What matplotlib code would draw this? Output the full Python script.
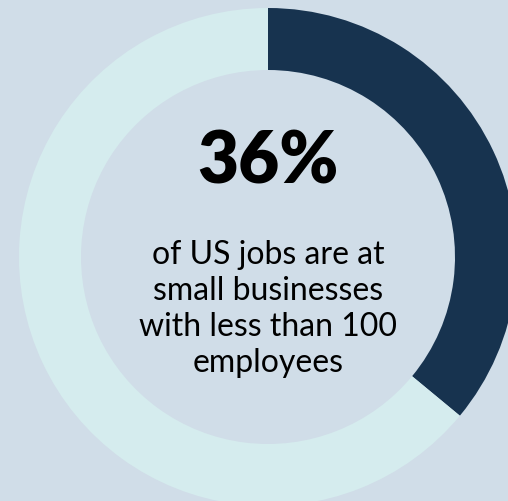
import matplotlib

matplotlib.use("Agg")
import matplotlib.pyplot as plt  # noqa: E402

# data
labels = ["Small businesses (<100 employees)", "Other"]
shares = [36, 64]
headline = "36%"
caption_lines = ["of US jobs are at", "small businesses", "with less than 100", "employees"]

BG = "#d0dde8"
DARK = "#17334f"
LIGHT = "#d5ecee"

W, H = 508, 502
fig = plt.figure(figsize=(W / 100, H / 100), dpi=100, facecolor=BG)
ax = fig.add_axes([0, 0, 1, 1])
ax.set_facecolor(BG)

cx, cy = 268, H - 258
ax.pie(shares, colors=[DARK, LIGHT], startangle=90, counterclock=False,
       radius=249, center=(cx, cy), wedgeprops=dict(width=62, linewidth=0))

ax.set_xlim(0, W)
ax.set_ylim(0, H)
ax.set_aspect("equal")
ax.axis("off")

ax.text(cx, H - 183, headline, ha="center", va="baseline", fontsize=51,
        fontweight="heavy", family="Lato", color="black")
for i, line in enumerate(caption_lines):
    ax.text(cx, H - (264 + i * 36), line, ha="center", va="baseline",
            fontsize=23, family="Lato", color="black")

fig.savefig("out.png", dpi=100, facecolor=BG)
plt.close(fig)
